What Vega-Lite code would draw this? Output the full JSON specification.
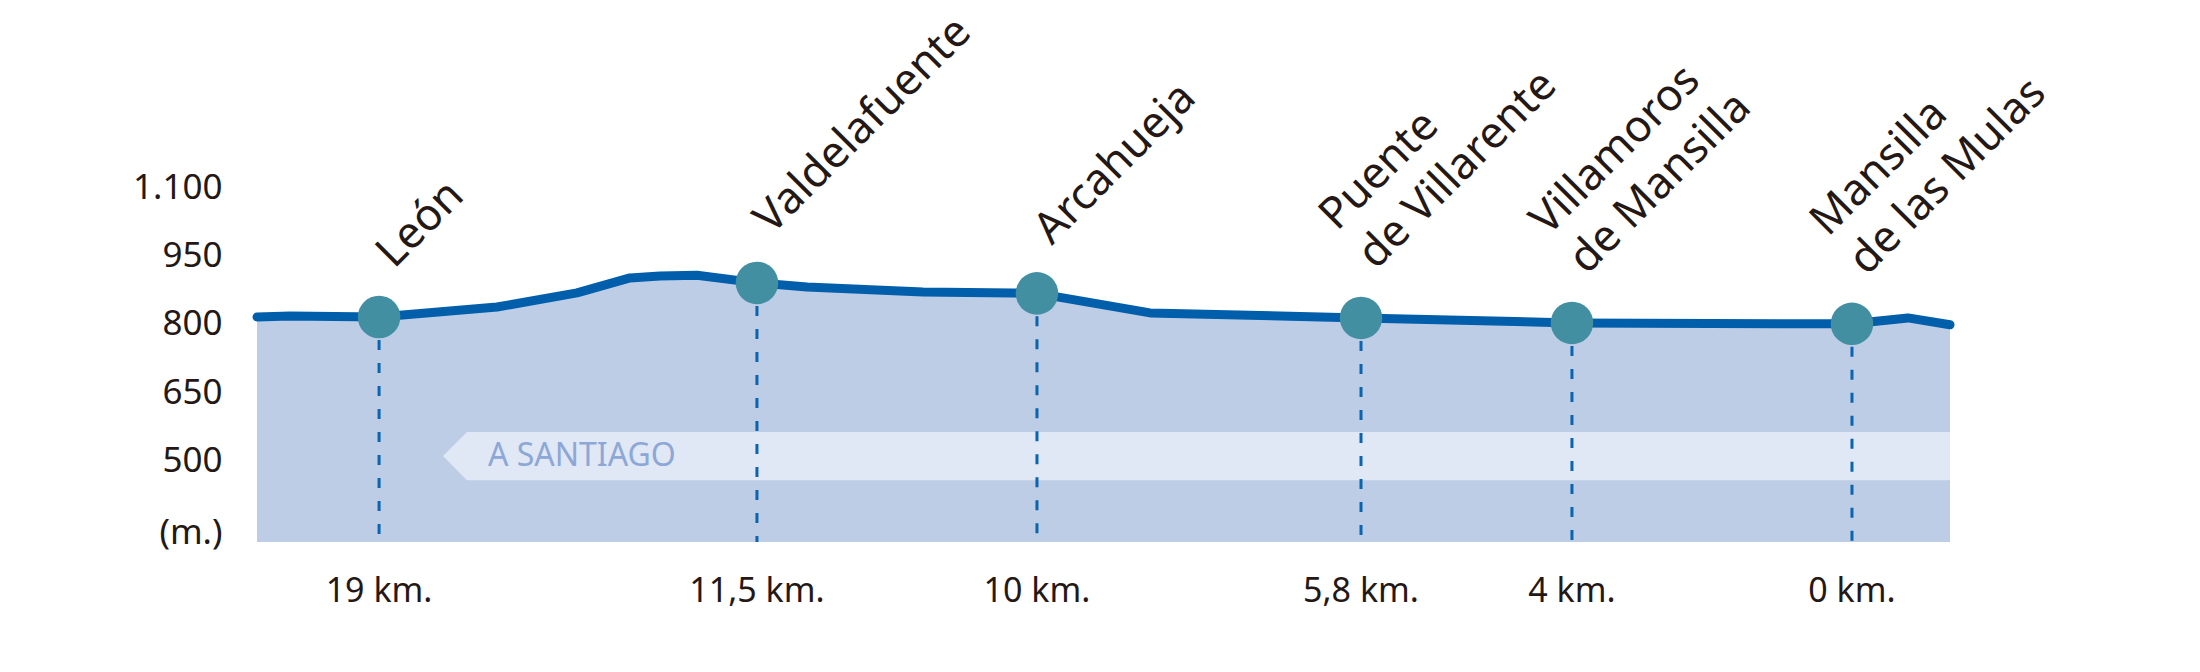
{
  "$schema": "https://vega.github.io/schema/vega-lite/v6.json",
  "width": 1693,
  "height": 500,
  "autosize": {"type": "none"},
  "padding": {"left": 257, "top": 42, "right": 250, "bottom": 130},
  "background": "#ffffff",
  "config": {"view": {"stroke": null}},
  "datasets": {
    "profile": [
      {"pos": 0, "elev": 815},
      {"pos": 1.95, "elev": 817},
      {"pos": 7.21, "elev": 815},
      {"pos": 14.18, "elev": 837},
      {"pos": 18.9, "elev": 868},
      {"pos": 22.03, "elev": 901},
      {"pos": 23.8, "elev": 905},
      {"pos": 25.99, "elev": 907},
      {"pos": 29.53, "elev": 890},
      {"pos": 32.49, "elev": 881},
      {"pos": 39.34, "elev": 870},
      {"pos": 44.65, "elev": 868},
      {"pos": 46.07, "elev": 867},
      {"pos": 52.75, "elev": 824},
      {"pos": 65.21, "elev": 813},
      {"pos": 77.67, "elev": 802},
      {"pos": 92.85, "elev": 800},
      {"pos": 94.21, "elev": 800},
      {"pos": 97.52, "elev": 813},
      {"pos": 100, "elev": 798}
    ],
    "stations": [
      {"name": "León", "km": "19 km.", "pos": 7.21, "elev": 815},
      {"name": "Valdelafuente", "km": "11,5 km.", "pos": 29.53, "elev": 890},
      {"name": "Arcahueja", "km": "10 km.", "pos": 46.07, "elev": 867},
      {"name": "Puente\nde Villarente", "km": "5,8 km.", "pos": 65.21, "elev": 813},
      {"name": "Villamoros\nde Mansilla", "km": "4 km.", "pos": 77.67, "elev": 802},
      {"name": "Mansilla\nde las Mulas", "km": "0 km.", "pos": 94.21, "elev": 800}
    ],
    "band": [
      {"pos": 10.99, "top": 509, "bottom": 509},
      {"pos": 12.4, "top": 562, "bottom": 456},
      {"pos": 100, "top": 562, "bottom": 456}
    ],
    "direction": [
      {"label": "A SANTIAGO", "pos": 13.64, "elev": 509}
    ]
  },
  "layer": [
    {
      "data": {"name": "profile"},
      "mark": {"type": "area", "color": "#BDCDE6"},
      "encoding": {
        "x": {"field": "pos", "type": "quantitative", "scale": {"domain": [0, 100], "nice": false, "zero": false}, "axis": null},
        "y": {"field": "elev", "type": "quantitative", "scale": {"domain": [320, 1420], "nice": false, "zero": false},
          "axis": {
            "values": [342, 500, 650, 800, 950, 1100],
            "labelExpr": "datum.value == 342 ? '(m.)' : replace(format(datum.value, ','), ',', '.')",
            "domain": false, "ticks": false, "grid": false, "title": null,
            "labelFont": "Noto Sans", "labelFontSize": 35, "labelColor": "#231815",
            "labelPadding": 35, "labelBaseline": "middle"
          }
        },
        "y2": {"datum": 320}
      }
    },
    {
      "data": {"name": "band"},
      "mark": {"type": "area", "color": "#E0E7F5"},
      "encoding": {
        "x": {"field": "pos", "type": "quantitative"},
        "y": {"field": "top", "type": "quantitative"},
        "y2": {"field": "bottom"}
      }
    },
    {
      "data": {"name": "direction"},
      "mark": {"type": "text", "align": "left", "baseline": "middle", "font": "Noto Sans", "fontSize": 32, "color": "#8DA7D6"},
      "encoding": {
        "x": {"field": "pos", "type": "quantitative"},
        "y": {"field": "elev", "type": "quantitative"},
        "text": {"field": "label"}
      }
    },
    {
      "data": {"name": "stations"},
      "mark": {"type": "rule", "color": "#0A64B0", "strokeWidth": 3, "strokeDash": [10, 13]},
      "encoding": {
        "x": {"field": "pos", "type": "quantitative"},
        "y": {"field": "elev", "type": "quantitative"},
        "y2": {"datum": 320}
      }
    },
    {
      "data": {"name": "profile"},
      "mark": {"type": "line", "color": "#005EAA", "strokeWidth": 9, "strokeCap": "round", "strokeJoin": "round"},
      "encoding": {
        "x": {"field": "pos", "type": "quantitative"},
        "y": {"field": "elev", "type": "quantitative"}
      }
    },
    {
      "data": {"name": "stations"},
      "mark": {"type": "circle", "size": 1810, "color": "#428FA2", "opacity": 1},
      "encoding": {
        "x": {"field": "pos", "type": "quantitative"},
        "y": {"field": "elev", "type": "quantitative"}
      }
    },
    {
      "data": {"name": "stations"},
      "transform": [{"filter": "indexof(datum.name, '\\n') < 0"}],
      "mark": {"type": "text", "angle": 315, "align": "left", "baseline": "alphabetic", "dx": 44, "dy": -23, "font": "Noto Sans", "fontSize": 44, "lineHeight": 55, "lineBreak": "\n", "color": "#231815"},
      "encoding": {
        "x": {"field": "pos", "type": "quantitative"},
        "y": {"field": "elev", "type": "quantitative"},
        "text": {"field": "name"}
      }
    },
    {
      "data": {"name": "stations"},
      "transform": [{"filter": "indexof(datum.name, '\\n') >= 0"}],
      "mark": {"type": "text", "angle": 315, "align": "left", "baseline": "alphabetic", "dx": 44, "dy": -78, "font": "Noto Sans", "fontSize": 44, "lineHeight": 55, "lineBreak": "\n", "color": "#231815"},
      "encoding": {
        "x": {"field": "pos", "type": "quantitative"},
        "y": {"field": "elev", "type": "quantitative"},
        "text": {"field": "name"}
      }
    },
    {
      "data": {"name": "stations"},
      "mark": {"type": "text", "align": "center", "baseline": "middle", "font": "Noto Sans", "fontSize": 34, "color": "#231815"},
      "encoding": {
        "x": {"field": "pos", "type": "quantitative"},
        "y": {"datum": 210},
        "text": {"field": "km"}
      }
    }
  ]
}
